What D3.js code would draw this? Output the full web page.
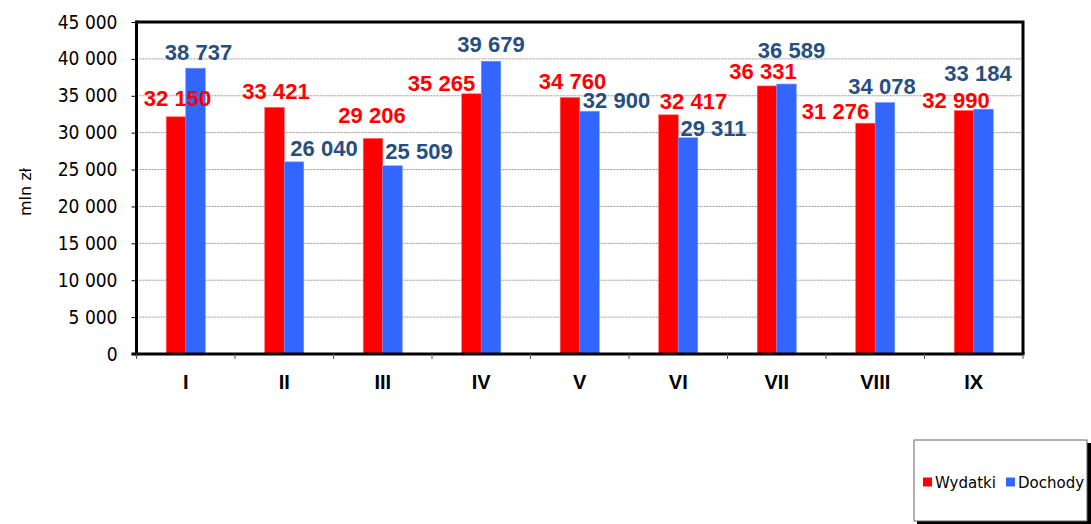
<!DOCTYPE html>
<html>
<head>
<meta charset="utf-8">
<script src="https://cdn.jsdelivr.net/npm/d3@7"></script>
<style>
  body { margin: 0; background: #fff; }
  svg { display: block; }
</style>
</head>
<body>
<svg width="1091" height="524"></svg>
<script>
// data
var months = ['I', 'II', 'III', 'IV', 'V', 'VI', 'VII', 'VIII', 'IX'];
var wydatki = [32150, 33421, 29206, 35265, 34760, 32417, 36331, 31276, 32990];
var dochody = [38737, 26040, 25509, 39679, 32900, 29311, 36589, 34078, 33184];
var seriesNames = ['Wydatki', 'Dochody'];
var yTicks = [0, 5000, 10000, 15000, 20000, 25000, 30000, 35000, 40000, 45000];

// label nudges (px, relative to top centre of the bar) - hand placed like in the original
var redNudge = [[1.5, -19], [1.5, -16], [-1, -23.5], [-30, -10.5], [2.5, -16.5], [25, -14], [-4, -14.5], [-30, -12], [-8, -11]];
var blueNudge = [[3, -16], [30, -14], [26.5, -14.5], [0, -17], [27, -11], [25.5, -10], [5, -34], [-3, -17], [-5.5, -36]];

var colors = ['#ff0000', '#3366ff'];
var labelColors = ['#ff0000', '#264f80'];

var svg = d3.select('svg');
var plot = {l: 136.5, r: 1023, t: 22, b: 354};

var pl = d3.formatLocale({decimal: ',', thousands: ' ', grouping: [3], currency: ['', '']});
var fmt = pl.format(',d');

var x0 = d3.scaleBand().domain(months).range([plot.l, plot.r]).padding(0);
var groupW = 39;
var x1 = d3.scaleBand().domain([0, 1])
  .range([(x0.bandwidth() - groupW) / 2, (x0.bandwidth() + groupW) / 2]);
var y = d3.scaleLinear().domain([0, 45000]).range([plot.b, plot.t]);

// grid
svg.append('g').selectAll('line')
  .data(yTicks.filter(function(d) { return d > 0 && d < 45000; }))
  .enter().append('line')
  .attr('x1', plot.l).attr('x2', plot.r)
  .attr('y1', function(d) { return y(d); })
  .attr('y2', function(d) { return y(d); })
  .attr('stroke', '#9a9a9a')
  .attr('stroke-width', 1)
  .attr('stroke-dasharray', '2,1');

// bars
var rows = months.map(function(m, i) { return {m: m, i: i, v: [wydatki[i], dochody[i]]}; });
var groups = svg.append('g').selectAll('g')
  .data(rows).enter().append('g')
  .attr('transform', function(d) { return 'translate(' + x0(d.m) + ',0)'; });

groups.selectAll('rect')
  .data(function(d) { return d.v.map(function(v, s) { return {s: s, v: v}; }); })
  .enter().append('rect')
  .attr('x', function(d) { return x1(d.s); })
  .attr('width', x1.bandwidth())
  .attr('y', function(d) { return y(d.v); })
  .attr('height', function(d) { return y(0) - y(d.v); })
  .attr('fill', function(d) { return colors[d.s]; })
  .attr('stroke', function(d) { return d.s ? '#6f93ff' : '#ff5a5a'; })
  .attr('stroke-width', 0.6);

// frame (top + right) and axes
svg.append('path')
  .attr('d', 'M' + plot.l + ',' + plot.t + 'H' + plot.r + 'V' + plot.b)
  .attr('fill', 'none').attr('stroke', '#000').attr('stroke-width', 3);

var yAxis = d3.axisLeft(y).tickValues(yTicks).tickFormat(fmt).tickSize(5).tickPadding(14);
var yg = svg.append('g')
  .attr('transform', 'translate(' + plot.l + ',0)')
  .call(yAxis);
yg.select('.domain').remove();
yg.selectAll('line').attr('stroke', '#000');
yg.selectAll('text')
  .style('font-family', '"DejaVu Sans Condensed", "DejaVu Sans", sans-serif')
  .style('font-size', '19px')
  .attr('fill', '#000');

svg.append('line')
  .attr('x1', plot.l).attr('x2', plot.l)
  .attr('y1', plot.t - 1.5).attr('y2', plot.b + 1.5)
  .attr('stroke', '#000').attr('stroke-width', 3);
svg.append('line')
  .attr('x1', plot.l - 5).attr('x2', plot.r + 1.5)
  .attr('y1', plot.b).attr('y2', plot.b)
  .attr('stroke', '#000').attr('stroke-width', 3);

// x ticks at band edges
var edges = months.map(function(m) { return x0(m); }).concat([x0.range()[1]]);
svg.append('g').selectAll('line')
  .data(edges).enter().append('line')
  .attr('x1', function(d) { return d; }).attr('x2', function(d) { return d; })
  .attr('y1', plot.b).attr('y2', plot.b + 5)
  .attr('stroke', '#555');

svg.append('g').selectAll('text')
  .data(months).enter().append('text')
  .attr('x', function(d) { return x0(d) + x0.bandwidth() / 2; })
  .attr('y', 389)
  .attr('text-anchor', 'middle')
  .style('font-family', '"Liberation Sans", Arial, sans-serif')
  .style('font-weight', 'bold')
  .style('font-size', '20px')
  .text(function(d) { return d; });

// value labels
var labels = [];
rows.forEach(function(r) {
  [redNudge, blueNudge].forEach(function(nudge, s) {
    labels.push({
      x: x0(r.m) + x1(s) + x1.bandwidth() / 2 + nudge[r.i][0],
      y: y(r.v[s]) + nudge[r.i][1],
      s: s, v: r.v[s]
    });
  });
});
svg.append('g').selectAll('text')
  .data(labels).enter().append('text')
  .attr('x', function(d) { return d.x; })
  .attr('y', function(d) { return d.y; })
  .attr('dy', '0.36em')
  .attr('text-anchor', 'middle')
  .style('font-family', '"Liberation Sans", Arial, sans-serif')
  .style('font-weight', 'bold')
  .style('font-size', '22px')
  .attr('fill', function(d) { return labelColors[d.s]; })
  .text(function(d) { return fmt(d.v); });

// y title
svg.append('text')
  .attr('transform', 'translate(31,192) rotate(-90)')
  .attr('text-anchor', 'middle')
  .style('font-family', '"DejaVu Sans", Verdana, sans-serif')
  .style('font-size', '16px')
  .text('mln zł');

// legend
var lg = svg.append('g').attr('transform', 'translate(914,440)');
lg.append('rect').attr('x', 3).attr('y', 3).attr('width', 174).attr('height', 82).attr('fill', '#000');
lg.append('rect').attr('width', 173).attr('height', 81).attr('fill', '#fff')
  .attr('stroke', '#666').attr('stroke-width', 1);
var legX = [9, 92];
var li = lg.selectAll('g.item').data(seriesNames).enter().append('g')
  .attr('transform', function(d, i) { return 'translate(' + legX[i] + ',0)'; });
li.append('rect').attr('x', 0).attr('y', 37.5).attr('width', 9).attr('height', 9)
  .attr('fill', function(d, i) { return colors[i]; });
li.append('text').attr('x', 12).attr('y', 47.5)
  .style('font-family', '"DejaVu Sans", Verdana, sans-serif')
  .style('font-size', '15px')
  .text(function(d) { return d; });
</script>
</body>
</html>
